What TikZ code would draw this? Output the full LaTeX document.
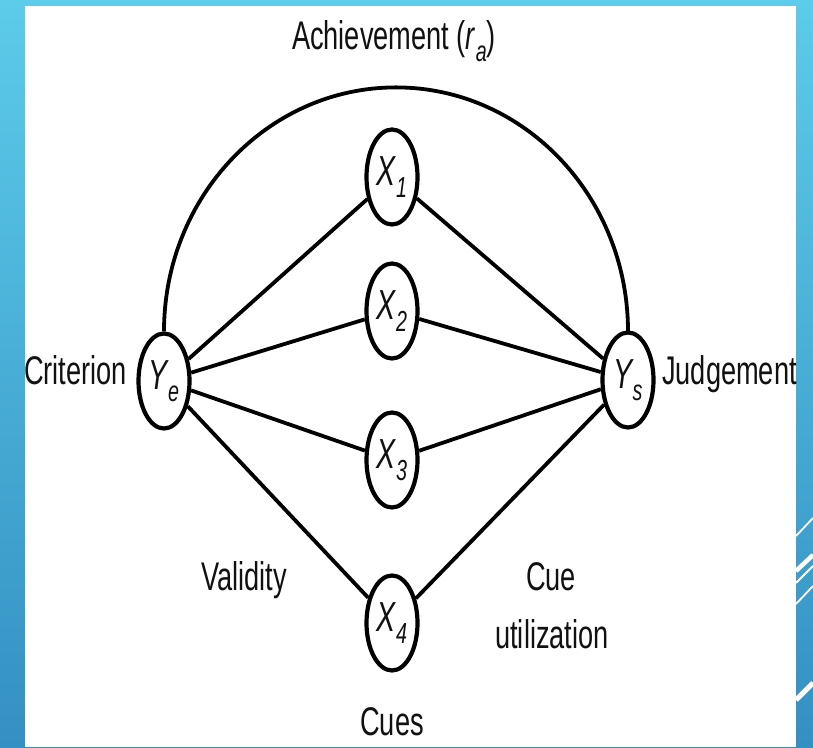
\documentclass[tikz,border=0pt]{standalone}
\usepackage{fontspec}
\setmainfont{Liberation Sans}[FakeStretch=0.68]
\usetikzlibrary{shapes.geometric}
\definecolor{bgtop}{HTML}{5DCBEA}
\definecolor{bgbot}{HTML}{3490C2}
\definecolor{ink}{HTML}{111111}
\newcommand\sbx[1]{\raisebox{-0.3em}{\fontsize{29}{29}\selectfont #1}}
\tikzset{
  cue/.style={ellipse, draw=black, line width=4.2pt, minimum width=51pt, minimum height=95pt, inner sep=0pt, text=ink, font=\fontsize{42}{42}\selectfont\itshape},
  link/.style={draw=black, line width=3.8pt},
  lbl/.style={text=ink, font=\fontsize{40}{42}\selectfont, inner sep=0pt},
  stripe/.style={draw=white, line cap=butt}
}
\begin{document}
\begin{tikzpicture}[x=1pt,y=1pt]
\useasboundingbox (0,0) rectangle (813,747);
\shade[top color=bgtop, bottom color=bgbot] (0,0) rectangle (813,747);
\fill[white] (25,0) rectangle (796,741);
\draw[stripe, line width=1.8pt] (796,211) -- (813,229);
\draw[stripe, line width=4.5pt] (796,176) -- (813,192);
\draw[stripe, line width=1.8pt] (796,164) -- (813,181);
\draw[stripe, line width=1.8pt] (796,143) -- (813,161);
\draw[stripe, line width=5pt] (796,47) -- (813,64);

\node[cue] (Ye) at (164,366) {Y\sbx{e}};
\node[cue] (Ys) at (628,367) {Y\sbx{s}};
\node[cue] (X1) at (392,570) {X\sbx{1}};
\node[cue] (X2) at (392,436) {X\sbx{2}};
\node[cue] (X3) at (392,287) {X\sbx{3}};
\node[cue] (X4) at (392,124) {X\sbx{4}};

\foreach \n in {X1,X2,X3,X4}{
  \draw[link] (Ye) -- (\n);
  \draw[link] (\n) -- (Ys);
}
\draw[link] (Ye.north) arc[start angle=180, end angle=0, x radius=232, y radius=244];

\node[lbl, anchor=base] (ach) at (394,697) {Achievement (\textit{r}\sbx{\textit{a}})};
\node[lbl, anchor=base east] (crit) at (127,362) {Criterion};
\node[lbl, anchor=base west] (judg) at (662,362) {Judgement};
\node[lbl, anchor=base] (val) at (244,157) {Validity};
\node[lbl, anchor=base] (cue1) at (551,157) {Cue};
\node[lbl, anchor=base] (util) at (552,99) {utilization};
\node[lbl, anchor=base] (cues) at (392,12) {Cues};
\end{tikzpicture}
\end{document}
